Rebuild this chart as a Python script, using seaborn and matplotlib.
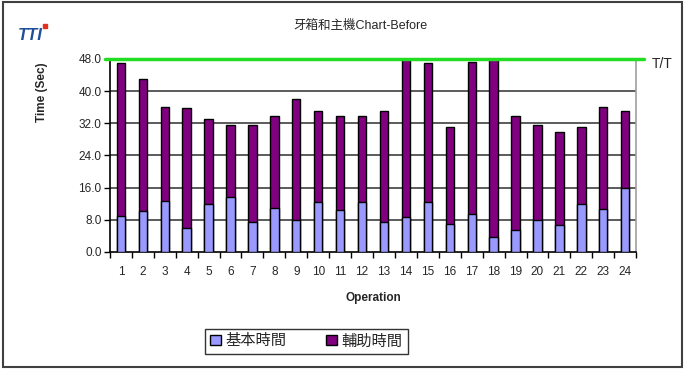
import numpy as np
import pandas as pd
import matplotlib
matplotlib.use('Agg')
import matplotlib.pyplot as plt
import seaborn as sns
from matplotlib.patches import Rectangle, Patch

sns.set_style('white')
plt.rcParams['font.family'] = ['Liberation Sans', 'Noto Sans CJK TC']

# values
operations = [str(i) for i in range(1, 25)]
base_time = [8.9, 10.3, 12.6, 5.9, 11.8, 13.6, 7.4, 10.9, 8.0, 12.3, 10.5, 12.3,
             7.4, 8.6, 12.3, 6.9, 9.5, 3.6, 5.4, 7.9, 6.6, 11.9, 10.6, 15.9]
total_time = [46.9, 42.9, 36.1, 35.9, 33.0, 31.6, 31.6, 33.8, 38.0, 35.0, 33.8, 33.8,
              35.0, 48.0, 47.1, 31.0, 47.3, 48.0, 33.9, 31.7, 29.9, 31.0, 36.0, 35.0]
takt_time = 48.0
y_ticks = [0, 8, 16, 24, 32, 40, 48]

base_col = '#9999FF'
aux_col = '#800080'

df = pd.DataFrame({'op': operations, 'base': base_time, 'total': total_time})

fig = plt.figure(figsize=(6.87, 3.71), dpi=100)
ax = fig.add_axes([0.160, 0.321, 0.766, 0.520])

for y in y_ticks[1:]:
    ax.axhline(y, color='#404040', lw=1.2, zorder=0)

sns.barplot(data=df, x='op', y='total', color=aux_col, width=0.38, edgecolor='black',
            linewidth=1.0, saturation=1, ax=ax, zorder=2)
sns.barplot(data=df, x='op', y='base', color=base_col, width=0.38, edgecolor='black',
            linewidth=1.0, saturation=1, ax=ax, zorder=3)

ax.axhline(takt_time, color='#22DD22', lw=2.5, zorder=4, xmin=-0.01, xmax=1.015, clip_on=False)
ax.text(1.03, takt_time - 1.2, 'T/T', transform=ax.get_yaxis_transform(), fontsize=10,
        va='center', ha='left')

ax.set_xlim(-0.5, 23.5)
ax.set_ylim(0, 48)
ax.set_yticks(y_ticks)
ax.set_yticklabels(['%.1f' % v for v in y_ticks], fontsize=8.5)
ax.set_xticks(np.arange(24))
ax.set_xticklabels(operations, fontsize=8.5)
ax.set_xticks(np.arange(-0.5, 24, 1), minor=True)
ax.tick_params(axis='x', which='major', length=0, pad=10)
ax.tick_params(axis='x', which='minor', length=4, width=1, direction='out', color='black', bottom=True)
ax.tick_params(axis='y', length=4, width=1, direction='out', color='black', left=True, pad=2)

for s in ['left', 'bottom']:
    ax.spines[s].set_color('black')
    ax.spines[s].set_linewidth(1.2)
ax.spines['right'].set_color('#A0A0A0')
ax.spines['right'].set_linewidth(1.2)
ax.spines['top'].set_visible(False)

ax.set_xlabel('Operation', fontsize=8.5, fontweight='bold', labelpad=10)
ax.set_ylabel('Time (Sec)', fontsize=8.5, fontweight='bold')
ax.yaxis.set_label_coords(-0.118, 0.83)

fig.text(0.525, 0.93, '牙箱和主機Chart-Before', fontsize=9, ha='center', va='center')
fig.text(0.026, 0.905, 'TTI', fontsize=12, fontweight='bold', style='italic',
         color='#1F4E9A', ha='left', va='center')
fig.patches.append(Rectangle((0.062, 0.925), 0.006, 0.011, transform=fig.transFigure,
                             color='#E03020', figure=fig))

handles = [Patch(facecolor=base_col, edgecolor='black', label='基本時間'),
           Patch(facecolor=aux_col, edgecolor='black', label='輔助時間')]
leg = fig.legend(handles=handles, loc='center', bbox_to_anchor=(0.446, 0.080), ncol=2,
                 fontsize=11, frameon=True, fancybox=False, edgecolor='black',
                 handlelength=0.7, handleheight=0.7, handletextpad=0.3, columnspacing=2.6,
                 borderpad=0.35)
leg.get_frame().set_linewidth(1.0)

fig.patches.append(Rectangle((0.005, 0.011), 0.988, 0.983, transform=fig.transFigure,
                             fill=False, edgecolor='#404040', lw=1.5, figure=fig))

fig.savefig('out.png', dpi=100)
